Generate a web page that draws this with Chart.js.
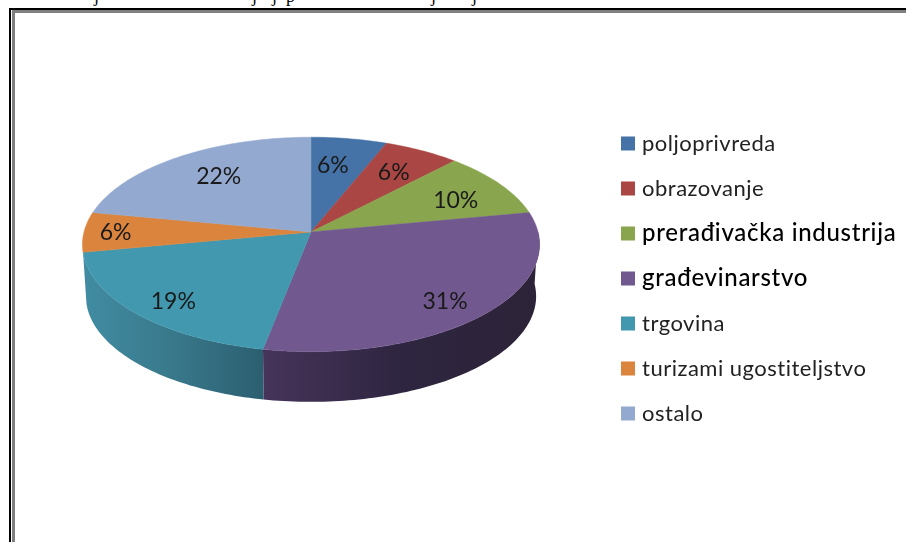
<!DOCTYPE html>
<html>
<head>
<meta charset="utf-8">
<title>Pie</title>
<script src="https://cdn.jsdelivr.net/npm/chart.js@4"></script>
<style>
    html, body { margin: 0; padding: 0; background: #fff; overflow: hidden; }
    #page { position: relative; width: 906px; height: 542px; overflow: hidden; }
    #frame-outer { position: absolute; left: 9px; top: 8px; right: -10px; bottom: -10px; border: 2px solid #000; }
    #frame-inner { position: absolute; left: 12px; top: 10px; right: -10px; bottom: -10px; border: 3px solid #808080; }
    canvas { position: absolute; left: 0; top: 0; filter: blur(0.4px); }
    /* the line above the frame is cut by the page edge, only these letters show */
    .cut { position: absolute; top: -13px; font: 18px/18px "Liberation Serif", serif; color: #000; opacity: 0.99; }
</style>
</head>
<body>
<div id="page">
    <span class="cut" style="left: 94px">j</span>
    <span class="cut" style="left: 252px">j</span>
    <span class="cut" style="left: 272px">j</span>
    <span class="cut" style="left: 286px">p</span>
    <span class="cut" style="left: 431px">j</span>
    <span class="cut" style="left: 472px">j</span>
    <div id="frame-outer"></div>
    <div id="frame-inner"></div>
    <canvas id="chart" width="906" height="542"></canvas>
</div>
<script>
// Sectors and shares
const categories = ['poljoprivreda', 'obrazovanje', 'prerađivačka industrija', 'građevinarstvo', 'trgovina', 'turizami ugostiteljstvo', 'ostalo'];
const shares = [6, 6, 10, 31, 19, 6, 22];
const sliceColors = ['#4572A7', '#AA4643', '#89A54E', '#71588F', '#4198AF', '#DB843D', '#93A9CF'];
const heavyLegendItems = ['prerađivačka industrija', 'građevinarstvo'];

// Where each percent label sits: fraction of the radius, and degrees off the slice middle
const labelReach = [0.68, 0.72, 0.73, 0.82, 0.83, 0.86, 0.71];
const labelTurn = [-2, 0.4, 3.6, 3, -2.2, -0.5, 2];

// Side wall colours, left to right
const wallShades = {
    'trgovina': ['#418CA2', '#39788B', '#2B5F70'],
    'građevinarstvo': ['#46345A', '#2E2540', '#2D2338']
};

// Tilted disc: maps a slice angle and radius to the screen with perspective
const TILT = 0.466;
const PERSPECTIVE = 0.116;
const DEPTH = 52;
const BOTTOM_SCALE = 0.985;

function project(arc, angle, reach, lower) {
    const u = Math.cos(angle) * reach;
    const v = Math.sin(angle) * reach;
    const w = 1 - PERSPECTIVE * v;
    const s = lower ? BOTTOM_SCALE : 1;
    return {
        x: arc.x + arc.outerRadius * s * u / w,
        y: arc.y + (lower ? DEPTH : 0) + arc.outerRadius * TILT * s * v / w
    };
}

function rimPoints(arc, from, to, lower) {
    const steps = Math.max(2, Math.ceil((to - from) / 0.02));
    const points = [];
    for (let i = 0; i <= steps; i++) {
        points.push(project(arc, from + (to - from) * i / steps, 1, lower));
    }
    return points;
}

function tracePath(ctx, points) {
    ctx.beginPath();
    points.forEach((p, i) => i ? ctx.lineTo(p.x, p.y) : ctx.moveTo(p.x, p.y));
    ctx.closePath();
}

// Only the part of a slice facing the viewer shows a wall
function visibleRange(arc) {
    const from = Math.max(arc.startAngle, 0);
    const to = Math.min(arc.endAngle, Math.PI);
    return to > from ? [from, to] : null;
}

function drawWall(ctx, arc, shades) {
    const range = visibleRange(arc);
    if (!range) return;
    const top = rimPoints(arc, range[0], range[1], false);
    const bottom = rimPoints(arc, range[0], range[1], true).reverse();
    const all = top.concat(bottom);
    const xs = all.map(p => p.x);
    const gradient = ctx.createLinearGradient(Math.min(...xs), 0, Math.max(...xs), 0);
    shades.forEach((c, i) => gradient.addColorStop(i / (shades.length - 1), c));
    tracePath(ctx, all);
    ctx.fillStyle = gradient;
    ctx.fill();
}

function drawFace(ctx, arc, color) {
    const points = rimPoints(arc, arc.startAngle, arc.endAngle, false);
    points.push(project(arc, 0, 0, false));
    tracePath(ctx, points);
    ctx.fillStyle = color;
    ctx.strokeStyle = color;
    ctx.lineWidth = 0.5;
    ctx.fill();
    ctx.stroke();
}

const tiltedPie = {
    id: 'tiltedPie',
    beforeDatasetDraw(chart, args) {
        const ctx = chart.ctx;
        const arcs = args.meta.data;
        ctx.save();
        // walls first, back to front, then the faces on top
        for (let i = arcs.length - 1; i >= 0; i--) {
            const shades = wallShades[categories[i]];
            if (shades) drawWall(ctx, arcs[i], shades);
        }
        arcs.forEach((arc, i) => drawFace(ctx, arc, sliceColors[i]));

        ctx.fillStyle = '#1a1a1a';
        ctx.font = '23px Lato';
        ctx.textAlign = 'center';
        ctx.textBaseline = 'middle';
        arcs.forEach((arc, i) => {
            const mid = (arc.startAngle + arc.endAngle) / 2 + labelTurn[i] * Math.PI / 180;
            const p = project(arc, mid, labelReach[i], false);
            ctx.fillText(shares[i] + '%', p.x, p.y);
        });
        ctx.restore();
        return false;
    }
};

// Legend is drawn by hand because two of its entries are heavier than the rest
const sideLegend = {
    id: 'sideLegend',
    afterDraw(chart) {
        const ctx = chart.ctx;
        ctx.save();
        ctx.textBaseline = 'middle';
        ctx.textAlign = 'left';
        categories.forEach((name, i) => {
            const y = 143.5 + i * 45;
            const heavy = heavyLegendItems.includes(name);
            ctx.fillStyle = sliceColors[i];
            ctx.fillRect(621, y - 7, 14, 14);
            ctx.fillStyle = heavy ? '#000' : '#222';
            ctx.font = (heavy ? '500 24px' : '22px') + ' Lato';
            ctx.letterSpacing = heavy ? '0.7px' : '0.5px';
            ctx.fillText(name, 642, y);
        });
        ctx.restore();
    }
};

new Chart(document.getElementById('chart'), {
    type: 'pie',
    data: {
        labels: categories,
        datasets: [{ data: shares, backgroundColor: sliceColors, borderWidth: 0 }]
    },
    options: {
        responsive: false,
        animation: false,
        layout: { padding: { left: 84, right: 368, top: 5, bottom: 83 } },
        plugins: {
            legend: { display: false },
            tooltip: { enabled: false }
        }
    },
    plugins: [tiltedPie, sideLegend]
});
</script>
</body>
</html>
